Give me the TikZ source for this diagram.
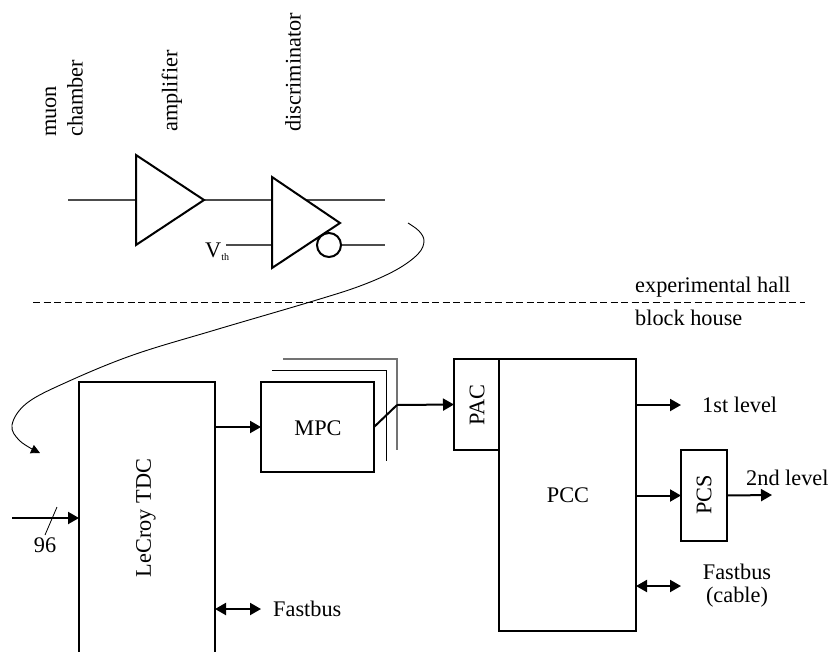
\documentclass[tikz,border=0pt]{standalone}
\usepackage{fontspec}
\setmainfont{Liberation Serif}
\usetikzlibrary{arrows.meta}
\tikzset{
  box/.style={draw,line width=2pt,fill=white,inner sep=0pt,outer sep=0pt,anchor=north west},
  wire/.style={line width=1.1pt,draw=black!70},
  gate/.style={line width=2pt,fill=white,line join=miter},
  layer/.style={line width=.9pt},
  sig/.style={line width=2pt,-{Triangle[length=11pt,width=12pt]}},
  bus/.style={line width=2pt,{Triangle[length=11pt,width=12pt]}-{Triangle[length=11pt,width=12pt]}},
  lbl/.style={font=\fontsize{22.3}{25}\selectfont,inner sep=0pt},
  vlbl/.style={lbl,rotate=90,anchor=west},
}
\begin{document}
\begin{tikzpicture}[x=1pt,y=-1pt]
\useasboundingbox (0,0) rectangle (829,651);
\clip (0,0) rectangle (829,651);
% coordinates of the gates
\coordinate (a1) at (136,155); \coordinate (a2) at (136,245); \coordinate (a3) at (204,200);
\coordinate (d1) at (272,177); \coordinate (d2) at (272,268); \coordinate (d3) at (340,223);
\coordinate (in) at (68,200); \coordinate (ain) at (136,200);
\coordinate (dout) at (385,200); \coordinate (nout) at (385,245);
\coordinate (vth) at (226,245); \coordinate (dth) at (272,245);
\coordinate (hl) at (33,302); \coordinate (hr) at (805,302);
% wires
\draw[wire] (in) -- (ain);
\draw[wire] (a3) -- (dout);
\draw[wire] (vth) -- (dth);
\node[circle,minimum size=24pt,inner sep=0pt,outer sep=0pt] (inv) at (329,245) {};
\draw[wire] (inv.east) -- (nout);
% gates
\draw[gate] (a1) -- (a2) -- (a3) -- cycle;
\draw[gate] (d1) -- (d2) -- (d3) -- cycle;
\draw[line width=2pt] (inv) circle (12pt);
% labels top
\node[vlbl] (lm) at (51,137) {muon};
\node[vlbl] (lc) at (75,137) {chamber};
\node[vlbl] (la) at (172,132) {amplifier};
\node[vlbl] (ld) at (293,132) {discriminator};
\node[lbl,anchor=base west] (v) at (205,257) {V\raisebox{-3pt}{\fontsize{10}{10}\selectfont th}};
% hall
\draw[line width=.8pt,dash pattern=on 7pt off 3.5pt] (hl) -- (hr);
\node[lbl,anchor=base west] (eh) at (635,292) {experimental hall};
\node[lbl,anchor=base west] (bh) at (635,325) {block house};
% curve
\coordinate (c0) at (408,223);
\coordinate (c1) at (40,453);
\draw[line width=.9pt,-{Triangle[length=9pt,width=9pt]}] plot[smooth,tension=.6] coordinates {(c0) (419,231) (424,241) (418,254) (396,270) (360,286) (310,302) (215,330) (133,355) (67,382) (27,403) (12,425) (20,441) (c1)};
% back layers of MPC
\coordinate (l1a) at (283,359); \coordinate (l1b) at (397,359); \coordinate (l1c) at (397,450);
\coordinate (l2a) at (272,370); \coordinate (l2b) at (386,370); \coordinate (l2c) at (386,461);
\draw[line width=1.2pt,draw=black!55] (l1a) -- (l1b) -- (l1c);
\draw[layer] (l2a) -- (l2b) -- (l2c);
% boxes
\node[box,minimum width=136pt,minimum height=330pt] (tdc) at (79,382) {};
\node[lbl,rotate=90] (tdcl) at (146,518) {LeCroy TDC};
\node[box,minimum width=113pt,minimum height=90pt] (mpc) at (261,382) {};
\node[lbl] (mpcl) at (318,428) {MPC};
\node[box,minimum width=45pt,minimum height=91pt] (pac) at (454,359) {};
\node[lbl,rotate=90] (pacl) at (477,405) {PAC};
\node[box,minimum width=137pt,minimum height=272pt] (pcc) at (499,359) {};
\node[lbl] (pccl) at (568,495) {PCC};
\node[box,minimum width=46pt,minimum height=91pt] (pcs) at (681,450) {};
\node[lbl,rotate=90] (pcsl) at (704,495) {PCS};
% connectors
\coordinate (bend) at (397,405);
\draw[sig] (tdc.east |- mpc.west) -- (mpc.west);
\draw[line width=2pt] (mpc.east) -- (bend);
\draw[sig] (bend) -- (pac.west);
\coordinate (i96) at (12,518);
\draw[sig] (i96) -- (i96 -| tdc.west);
\coordinate (s1) at (45,535); \coordinate (s2) at (57,507);
\draw[line width=.8pt] (s1) -- (s2);
\node[lbl] (n96) at (45,545) {96};
\coordinate (fb) at (261,609);
\draw[bus] (fb -| tdc.east) -- (fb);
\node[lbl,anchor=west] (fbl) at (273,609) {Fastbus};
\coordinate (l1) at (681,405);
\draw[sig] (l1 -| pcc.east) -- (l1);
\node[lbl,anchor=west] (l1l) at (702,405) {1st level};
\draw[sig] (pcc.east |- pcs.west) -- (pcs.west);
\coordinate (l2) at (772,495);
\draw[sig] (pcs.east) -- (l2);
\node[lbl,anchor=west] (l2l) at (746,478) {2nd level};
\coordinate (fc) at (681,586);
\draw[bus] (fc -| pcc.east) -- (fc);
\node[lbl] (fcl) at (737,572) {Fastbus};
\node[lbl] (fcm) at (737,597) {(cable)};
\end{tikzpicture}
\end{document}
